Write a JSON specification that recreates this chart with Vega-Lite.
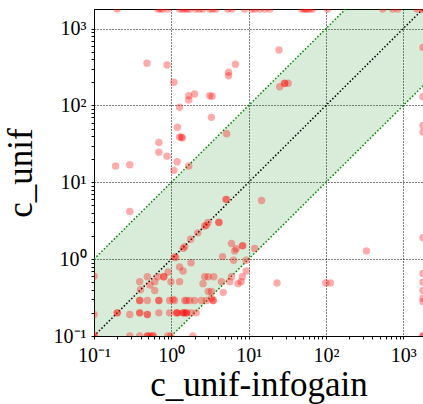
{
  "$schema": "https://vega.github.io/schema/vega-lite/v6.json",
  "width": 329,
  "height": 327,
  "autosize": {"type": "none"},
  "padding": {"left": 94, "top": 9, "right": 0, "bottom": 68},
  "background": "white",
  "config": {
    "view": {"stroke": "black", "strokeWidth": 1},
    "axis": {
      "labelFont": "Liberation Serif",
      "labelFontSize": 20,
      "titleFont": "Liberation Serif",
      "titleFontSize": 35,
      "titleFontWeight": "normal",
      "domainColor": "black",
      "tickColor": "black",
      "labelColor": "black",
      "titleColor": "black",
      "gridColor": "black",
      "gridDash": [1, 2],
      "gridWidth": 1,
      "tickSize": 3,
      "labelOverlap": false,
      "labelFlush": false
    }
  },
  "datasets": {
    "band": [
      {"x": 0.1, "hi": 1, "lo": 0.1},
      {"x": 1, "hi": 10, "lo": 0.1},
      {"x": 180, "hi": 1800, "lo": 18},
      {"x": 1800, "hi": 1800, "lo": 180}
    ],
    "lines": [
      {"g": "upper", "x": 0.1, "y": 1},
      {"g": "upper", "x": 180, "y": 1800},
      {"g": "lower", "x": 1, "y": 0.1},
      {"g": "lower", "x": 1800, "y": 180},
      {"g": "diag", "x": 0.1, "y": 0.1},
      {"g": "diag", "x": 1800, "y": 1800}
    ],
    "points": [
      {"x": 0.2, "y": 1800}, {"x": 0.67, "y": 1800}, {"x": 0.72, "y": 1800}, {"x": 0.77, "y": 1800}, {"x": 0.9, "y": 1800},
      {"x": 1.28, "y": 1800}, {"x": 1.38, "y": 1800}, {"x": 1.49, "y": 1800}, {"x": 1.6, "y": 1800}, {"x": 1.73, "y": 1800},
      {"x": 2.07, "y": 1800}, {"x": 2.3, "y": 1800}, {"x": 2.55, "y": 1800}, {"x": 3.14, "y": 1800}, {"x": 3.4, "y": 1800},
      {"x": 3.75, "y": 1800}, {"x": 5.37, "y": 1800}, {"x": 6.04, "y": 1800}, {"x": 8.9, "y": 1800}, {"x": 11, "y": 1800},
      {"x": 12, "y": 1800}, {"x": 13.9, "y": 1800}, {"x": 16.2, "y": 1800}, {"x": 18.8, "y": 1800}, {"x": 48.7, "y": 1800},
      {"x": 52, "y": 1800}, {"x": 54.8, "y": 1800}, {"x": 58, "y": 1800}, {"x": 61.8, "y": 1800}, {"x": 67.5, "y": 1800},
      {"x": 105, "y": 1800}, {"x": 543, "y": 1800}, {"x": 731, "y": 1800}, {"x": 849, "y": 1800}, {"x": 1500, "y": 1800},
      {"x": 1800, "y": 1800}, {"x": 1800, "y": 1800},
      {"x": 1800, "y": 570}, {"x": 1800, "y": 130}, {"x": 1800, "y": 55}, {"x": 1800, "y": 45}, {"x": 1800, "y": 1.9},
      {"x": 1800, "y": 0.65}, {"x": 1800, "y": 0.5}, {"x": 1800, "y": 0.39}, {"x": 1800, "y": 0.31}, {"x": 1800, "y": 0.28},
      {"x": 1800, "y": 0.1}, {"x": 1800, "y": 0.1},
      {"x": 0.1, "y": 0.1}, {"x": 0.1, "y": 0.1}, {"x": 0.29, "y": 0.1}, {"x": 0.39, "y": 0.1}, {"x": 0.49, "y": 0.1},
      {"x": 0.49, "y": 0.1}, {"x": 0.53, "y": 0.1}, {"x": 0.58, "y": 0.1}, {"x": 0.58, "y": 0.1}, {"x": 0.9, "y": 0.1},
      {"x": 0.99, "y": 0.1}, {"x": 1.9, "y": 0.1},
      {"x": 0.1, "y": 0.6}, {"x": 0.1, "y": 0.19},
      {"x": 0.485, "y": 354}, {"x": 0.88, "y": 336}, {"x": 1.08, "y": 200}, {"x": 6.75, "y": 344}, {"x": 5.5, "y": 270},
      {"x": 5.5, "y": 244}, {"x": 1.68, "y": 134}, {"x": 2.0, "y": 141}, {"x": 1.68, "y": 118}, {"x": 3.14, "y": 134},
      {"x": 3.37, "y": 132}, {"x": 1.28, "y": 95}, {"x": 3.3, "y": 70}, {"x": 1.2, "y": 52}, {"x": 1.28, "y": 39},
      {"x": 1.39, "y": 37.7}, {"x": 1.35, "y": 38.5}, {"x": 5.2, "y": 43}, {"x": 0.69, "y": 33}, {"x": 0.69, "y": 24.7},
      {"x": 0.88, "y": 21.9}, {"x": 1.19, "y": 18.5}, {"x": 1.68, "y": 16.3}, {"x": 1.08, "y": 14.3}, {"x": 0.19, "y": 16.3},
      {"x": 0.29, "y": 16.9}, {"x": 0.29, "y": 4.17}, {"x": 5.06, "y": 5.98}, {"x": 5.2, "y": 6.0}, {"x": 24.7, "y": 527},
      {"x": 29.3, "y": 195}, {"x": 32.4, "y": 195}, {"x": 29, "y": 193}, {"x": 25.2, "y": 175}, {"x": 14.7, "y": 5.8},
      {"x": 334, "y": 1.28}, {"x": 23.3, "y": 0.49}, {"x": 99.5, "y": 0.49}, {"x": 114, "y": 0.49},
      {"x": 4.1, "y": 3.03}, {"x": 4.15, "y": 3.0}, {"x": 2.98, "y": 3.0}, {"x": 2.7, "y": 2.7}, {"x": 2.84, "y": 2.75},
      {"x": 2.2, "y": 2.2}, {"x": 1.78, "y": 1.82}, {"x": 1.42, "y": 1.38}, {"x": 1.49, "y": 1.45}, {"x": 1.1, "y": 1.07},
      {"x": 1.14, "y": 1.05},
      {"x": 6.0, "y": 1.6}, {"x": 6.9, "y": 1.37}, {"x": 6.6, "y": 1.28}, {"x": 8.3, "y": 1.49}, {"x": 8.4, "y": 1.5},
      {"x": 12, "y": 1.38}, {"x": 4.6, "y": 1.08}, {"x": 9.3, "y": 0.97}, {"x": 6.4, "y": 0.97}, {"x": 1.8, "y": 0.9},
      {"x": 1.28, "y": 0.79}, {"x": 1.42, "y": 0.7}, {"x": 2.7, "y": 0.59}, {"x": 3.54, "y": 0.59}, {"x": 3.0, "y": 0.59},
      {"x": 6.0, "y": 0.59}, {"x": 9.3, "y": 0.7}, {"x": 8.3, "y": 0.59}, {"x": 8.0, "y": 0.51}, {"x": 7.3, "y": 0.48},
      {"x": 5.7, "y": 0.51}, {"x": 4.45, "y": 0.51}, {"x": 2.57, "y": 0.48}, {"x": 1.28, "y": 0.51}, {"x": 0.99, "y": 0.51},
      {"x": 0.91, "y": 0.68}, {"x": 4.7, "y": 0.37}, {"x": 3.0, "y": 0.38}, {"x": 3.3, "y": 0.38}, {"x": 3.5, "y": 0.29},
      {"x": 3.45, "y": 0.29}, {"x": 3.3, "y": 0.31}, {"x": 2.84, "y": 0.29}, {"x": 2.45, "y": 0.29}, {"x": 2.0, "y": 0.29},
      {"x": 1.73, "y": 0.29}, {"x": 1.57, "y": 0.29}, {"x": 1.49, "y": 0.29}, {"x": 1.1, "y": 0.29}, {"x": 0.95, "y": 0.29},
      {"x": 1.05, "y": 0.3},
      {"x": 1.17, "y": 0.2}, {"x": 1.17, "y": 0.2}, {"x": 1.22, "y": 0.2}, {"x": 1.42, "y": 0.2}, {"x": 1.42, "y": 0.2},
      {"x": 1.49, "y": 0.2}, {"x": 1.57, "y": 0.2}, {"x": 1.57, "y": 0.2}, {"x": 1.8, "y": 0.2}, {"x": 2.1, "y": 0.2},
      {"x": 0.95, "y": 0.2},
      {"x": 0.2, "y": 0.2}, {"x": 0.2, "y": 0.2}, {"x": 0.29, "y": 0.19}, {"x": 0.4, "y": 0.4}, {"x": 0.39, "y": 0.51},
      {"x": 0.39, "y": 0.29}, {"x": 0.39, "y": 0.29}, {"x": 0.39, "y": 0.2}, {"x": 0.39, "y": 0.2}, {"x": 0.49, "y": 0.59},
      {"x": 0.49, "y": 0.29}, {"x": 0.49, "y": 0.19}, {"x": 0.49, "y": 0.19}, {"x": 0.53, "y": 0.46}, {"x": 0.61, "y": 0.51},
      {"x": 0.61, "y": 0.39}, {"x": 0.67, "y": 0.59}, {"x": 0.69, "y": 0.29}, {"x": 0.69, "y": 0.29}, {"x": 0.69, "y": 0.2},
      {"x": 0.8, "y": 0.59}, {"x": 0.8, "y": 0.59}
    ]
  },
  "layer": [
    {
      "data": {"name": "band"},
      "mark": {"type": "area", "color": "green", "opacity": 0.15, "clip": true},
      "encoding": {
        "x": {
          "field": "x", "type": "quantitative",
          "scale": {"type": "log", "domain": [0.1, 1800], "nice": false, "zero": false},
          "axis": {
            "title": "c_unif-infogain",
            "values": [0.1,0.2,0.3,0.4,0.5,0.6,0.7,0.8,0.9,1,2,3,4,5,6,7,8,9,10,20,30,40,50,60,70,80,90,100,200,300,400,500,600,700,800,900,1000],
            "labelExpr": "abs(log(datum.value)/LN10 - round(log(datum.value)/LN10)) < 0.01 ? ('10' + ['⁻¹','⁰','¹','²','³'][round(log(datum.value)/LN10)+1]) : ''",
            "gridOpacity": {"condition": {"test": "abs(log(datum.value)/LN10 - round(log(datum.value)/LN10)) < 0.01", "value": 1}, "value": 0},
            "labelPadding": 6,
            "titlePadding": 2
          }
        },
        "y": {
          "field": "hi", "type": "quantitative",
          "scale": {"type": "log", "domain": [0.1, 1800], "nice": false, "zero": false},
          "axis": {
            "title": "c_unif",
            "values": [0.1,0.2,0.3,0.4,0.5,0.6,0.7,0.8,0.9,1,2,3,4,5,6,7,8,9,10,20,30,40,50,60,70,80,90,100,200,300,400,500,600,700,800,900,1000],
            "labelExpr": "abs(log(datum.value)/LN10 - round(log(datum.value)/LN10)) < 0.01 ? ('10' + ['⁻¹','⁰','¹','²','³'][round(log(datum.value)/LN10)+1]) : ''",
            "gridOpacity": {"condition": {"test": "abs(log(datum.value)/LN10 - round(log(datum.value)/LN10)) < 0.01", "value": 1}, "value": 0},
            "labelPadding": 5,
            "titlePadding": 15
          }
        },
        "y2": {"field": "lo"}
      }
    },
    {
      "data": {"name": "lines"},
      "mark": {"type": "line", "strokeDash": [1.5, 2], "strokeWidth": 1.5, "clip": true},
      "encoding": {
        "x": {"field": "x", "type": "quantitative"},
        "y": {"field": "y", "type": "quantitative"},
        "detail": {"field": "g"},
        "color": {"field": "g", "type": "nominal", "scale": {"domain": ["upper", "lower", "diag"], "range": ["#008000", "#008000", "black"]}, "legend": null}
      }
    },
    {
      "data": {"name": "points"},
      "mark": {"type": "circle", "color": "red", "opacity": 0.33, "size": 55, "clip": true},
      "encoding": {
        "x": {"field": "x", "type": "quantitative"},
        "y": {"field": "y", "type": "quantitative"}
      }
    }
  ]
}
